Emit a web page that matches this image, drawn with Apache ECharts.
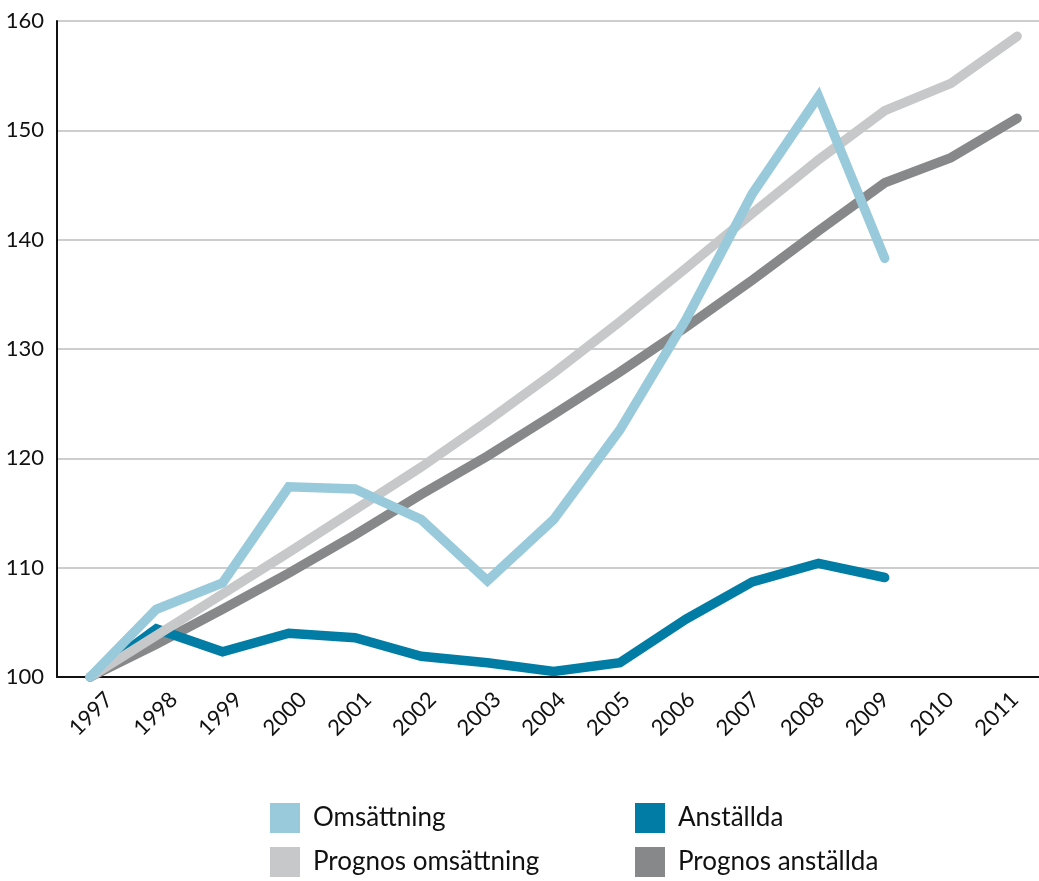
<!DOCTYPE html>
<html>
<head>
<meta charset="utf-8">
<script src="https://cdn.jsdelivr.net/npm/echarts@6/dist/echarts.min.js"></script>
<style>
  html, body { margin: 0; padding: 0; background: #ffffff; }
  #chart { width: 1039px; height: 881px; }
</style>
</head>
<body>
<div id="chart"></div>
<script>
// Index, 1997 = 100
const years = ['1997', '1998', '1999', '2000', '2001', '2002', '2003', '2004',
               '2005', '2006', '2007', '2008', '2009', '2010', '2011'];
const omsattning = [100, 106.2, 108.6, 117.4, 117.2, 114.4, 108.8, 114.4, 122.6, 132.7, 144.2, 153.1, 138.3];
const anstallda = [100, 104.4, 102.3, 104.0, 103.6, 101.9, 101.3, 100.5, 101.3, 105.3, 108.7, 110.4, 109.1];
const prognosOmsattning = [100, 103.8, 107.6, 111.4, 115.3, 119.2, 123.4, 127.8, 132.5, 137.4, 142.4, 147.3, 151.8, 154.3, 158.6];
const prognosAnstallda = [100, 103.0, 106.2, 109.5, 113.0, 116.7, 120.2, 124.0, 127.9, 132.0, 136.3, 140.8, 145.2, 147.5, 151.1];
const yTicks = { min: 100, max: 160, step: 10 };

const FONT = 'Lato, "Open Sans", sans-serif';
const C_OMS = '#99cadb';
const C_ANST = '#007ca5';
const C_POMS = '#c7c8c9';
const C_PANST = '#87888a';

// pair each value with its year on the numeric x axis
function pairs(values) {
  return values.map(function (v, i) { return [Number(years[i]), v]; });
}

function lineSeries(name, values, color, z) {
  return {
    name: name,
    type: 'line',
    xAxisIndex: 0,
    yAxisIndex: 0,
    data: pairs(values),
    symbol: 'none',
    z: z,
    clip: false,
    itemStyle: { color: color },
    lineStyle: { color: color, width: 9.5, cap: 'round', join: 'miter' },
    emphasis: { disabled: true },
    animation: false
  };
}

const legendCommon = {
  orient: 'vertical',
  top: 803,
  padding: 0,
  icon: 'rect',
  itemWidth: 30,
  itemHeight: 30,
  itemGap: 14,
  selectedMode: false,
  itemStyle: { borderWidth: 0 },
  textStyle: { fontFamily: FONT, fontSize: 26, color: '#111', padding: [12, 0, 0, 8] }
};

const chart = echarts.init(document.getElementById('chart'), null, { renderer: 'canvas' });
chart.setOption({
  backgroundColor: '#ffffff',
  animation: false,
  grid: [
    { left: 57, top: 21, right: 0, height: 656 },
    { left: 58.6, top: 21, width: 970.5, height: 656 }
  ],
  xAxis: [
    {
      gridIndex: 0,
      type: 'value',
      min: 1996.5,
      max: 2011.33,
      axisLine: { show: true, onZero: false, lineStyle: { color: '#111', width: 2 } },
      axisTick: { show: false },
      axisLabel: { show: false },
      splitLine: { show: false }
    },
    {
      gridIndex: 1,
      type: 'category',
      data: years,
      boundaryGap: true,
      axisLine: { show: false },
      axisTick: { show: false },
      splitLine: { show: false },
      axisLabel: {
        rotate: 45,
        align: 'center',
        verticalAlign: 'middle',
        margin: 37,
        interval: 0,
        fontFamily: FONT,
        fontSize: 22,
        color: '#111'
      }
    }
  ],
  yAxis: [
    {
      gridIndex: 0,
      type: 'value',
      min: yTicks.min,
      max: yTicks.max,
      interval: yTicks.step,
      axisLine: { show: true, onZero: false, lineStyle: { color: '#111', width: 2 } },
      axisTick: { show: false },
      axisLabel: { margin: 13, fontFamily: FONT, fontSize: 22, color: '#111' },
      splitLine: { show: true, lineStyle: { color: '#bdbdbd', width: 1.5 } }
    },
    { gridIndex: 1, type: 'value', min: 0, max: 1, show: false }
  ],
  legend: [
    Object.assign({}, legendCommon, { left: 270, data: ['Omsättning', 'Prognos omsättning'] }),
    Object.assign({}, legendCommon, { left: 635, data: ['Anställda', 'Prognos anställda'] })
  ],
  series: [
    lineSeries('Prognos anställda', prognosAnstallda, C_PANST, 2),
    lineSeries('Anställda', anstallda, C_ANST, 3),
    lineSeries('Prognos omsättning', prognosOmsattning, C_POMS, 4),
    lineSeries('Omsättning', omsattning, C_OMS, 5)
  ]
});
</script>
</body>
</html>
